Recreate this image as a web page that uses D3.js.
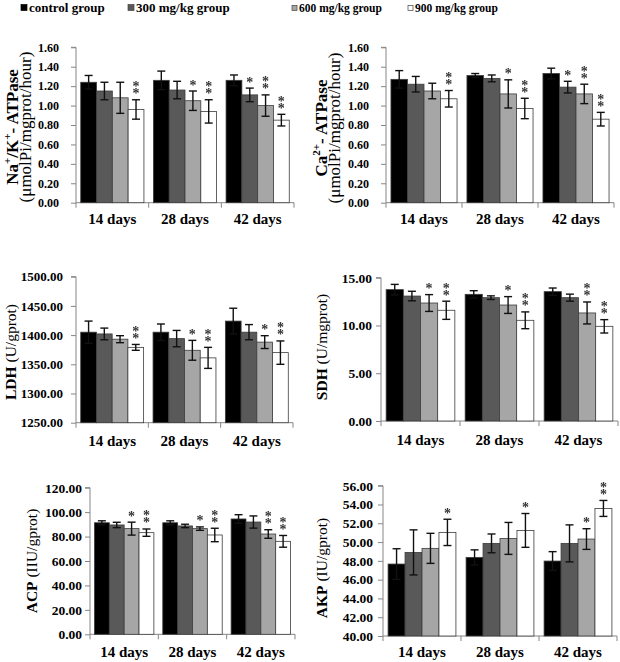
<!DOCTYPE html>
<html>
<head>
<meta charset="utf-8">
<script src="https://cdn.jsdelivr.net/npm/d3@7"></script>
<style>
  body { margin: 0; background: #fff; }
  svg { display: block; font-family: "Liberation Serif", "Times New Roman", serif; }
</style>
</head>
<body>
<svg id="chart" width="620" height="662">
  <defs>
    <filter id="gray"><feColorMatrix type="saturate" values="0"/></filter>
  </defs>
</svg>
<script>
// ===== DATA =====
const groups = ['control group', '300 mg/kg group', '600 mg/kg group', '900 mg/kg group'];
const periods = ['14 days', '28 days', '42 days'];
const groupColors = ['#000000', '#595959', '#a6a6a6', '#ffffff'];

// Na+/K+-ATPase (μmolPi/mgprot/hour), rows = periods, cols = groups
const nakMean = [[1.24, 1.15, 1.08, 0.96], [1.26, 1.16, 1.05, 0.94], [1.26, 1.11, 1.00, 0.85]];
const nakErr  = [[0.07, 0.09, 0.16, 0.10], [0.095, 0.09, 0.10, 0.12], [0.055, 0.07, 0.11, 0.06]];
const nakSig  = [[0, 0, 0, 2], [0, 0, 1, 2], [0, 1, 2, 2]];
const nakTicks = [0, 0.2, 0.4, 0.6, 0.8, 1.0, 1.2, 1.4, 1.6];

// Ca2+-ATPase
const caMean = [[1.27, 1.22, 1.15, 1.07], [1.31, 1.28, 1.12, 0.97], [1.33, 1.19, 1.12, 0.86]];
const caErr  = [[0.09, 0.08, 0.08, 0.085], [0.02, 0.035, 0.145, 0.105], [0.055, 0.06, 0.10, 0.07]];
const caSig  = [[0, 0, 0, 2], [0, 0, 1, 2], [0, 1, 2, 2]];
const caTicks = [0, 0.2, 0.4, 0.6, 0.8, 1.0, 1.2, 1.4, 1.6];

// LDH (U/gprot)
const ldhMean = [[1405, 1402, 1393, 1379], [1405, 1394, 1374, 1361], [1424, 1405, 1388, 1370]];
const ldhErr  = [[19, 10, 6, 5], [14, 14, 17, 18], [22, 13, 11, 20]];
const ldhSig  = [[0, 0, 0, 2], [0, 0, 1, 2], [0, 0, 1, 2]];
const ldhTicks = [1250, 1300, 1350, 1400, 1450, 1500];

// SDH (U/mgprot)
const sdhMean = [[13.75, 13.08, 12.35, 11.59], [13.26, 12.91, 12.14, 10.54], [13.54, 12.91, 11.31, 9.91]];
const sdhErr  = [[0.55, 0.5, 0.88, 0.95], [0.38, 0.19, 0.88, 0.88], [0.38, 0.37, 1.15, 0.7]];
const sdhSig  = [[0, 0, 1, 2], [0, 0, 1, 2], [0, 0, 2, 2]];
const sdhTicks = [0, 5, 10, 15];

// ACP (IIU/gprot)
const acpMean = [[91.3, 89.5, 86.5, 83.2], [91.3, 88.7, 86.5, 81.3], [94.4, 91.9, 82.1, 76.1]];
const acpErr  = [[1.6, 2.2, 5.3, 3.0], [1.6, 1.4, 1.4, 5.5], [3.5, 5.0, 3.5, 4.8]];
const acpSig  = [[0, 0, 1, 2], [0, 0, 1, 2], [0, 0, 2, 2]];
const acpTicks = [0, 20, 40, 60, 80, 100, 120];

// AKP (IU/gprot)
const akpMean = [[47.66, 48.9, 49.33, 51.03], [48.37, 49.86, 50.39, 51.24], [47.98, 49.86, 50.32, 53.58]];
const akpErr  = [[1.63, 2.4, 1.6, 1.4], [0.8, 1.0, 1.7, 1.8], [1.0, 1.97, 1.1, 0.85]];
const akpSig  = [[0, 0, 0, 1], [0, 0, 0, 1], [0, 0, 1, 2]];
const akpTicks = [40, 42, 44, 46, 48, 50, 52, 54, 56];

// ===== LAYOUT =====
const svg = d3.select('#chart');
const AXIS = '#868686';

const panels = [
  { mean: nakMean, err: nakErr, sig: nakSig, ticks: nakTicks,
    left: 76, right: 294, top: 47.3, bottom: 202.7, tickFont: 12, tickGap: 17, labelDy: 21,
    title: [{ x: 18, size: 17, parts: [['Na', 700], ['+', 700, 'sup'], ['/K', 700], ['+', 700, 'sup'], ['- ATPase', 700]] },
            { x: 31, size: 17, parts: [['(μmolPi/mgprot/hour)', 400]] }], titleY: 127 },
  { mean: caMean, err: caErr, sig: caSig, ticks: caTicks,
    left: 386, right: 614, top: 47.3, bottom: 202.7, tickFont: 12, tickGap: 17, labelDy: 21,
    title: [{ x: 327, size: 17, parts: [['Ca', 700], ['2+', 700, 'sup'], ['- ATPase', 700]] },
            { x: 340, size: 17, parts: [['(μmolPi/mgprot/hour)', 400]] }], titleY: 128 },
  { mean: ldhMean, err: ldhErr, sig: ldhSig, ticks: ldhTicks,
    left: 76, right: 293, top: 276.7, bottom: 422.7, tickFont: 13, tickGap: 13, labelDy: 23,
    title: [{ x: 16, size: 15.5, parts: [['LDH', 700], [' (U/gprot)', 400]] }], titleY: 352 },
  { mean: sdhMean, err: sdhErr, sig: sdhSig, ticks: sdhTicks,
    left: 381, right: 618, top: 277.7, bottom: 421, tickFont: 13.5, tickGap: 9, labelDy: 24,
    title: [{ x: 327, size: 15.5, parts: [['SDH', 700], [' (U/mgprot)', 400]] }], titleY: 347 },
  { mean: acpMean, err: acpErr, sig: acpSig, ticks: acpTicks,
    left: 90, right: 295, top: 487.7, bottom: 634.3, tickFont: 13.5, tickGap: 8, labelDy: 23,
    title: [{ x: 37, size: 15.5, parts: [['ACP', 700], [' (IIU/gprot)', 400]] }], titleY: 561 },
  { mean: akpMean, err: akpErr, sig: akpSig, ticks: akpTicks,
    left: 383, right: 617, top: 485.7, bottom: 636, tickFont: 13.5, tickGap: 10, labelDy: 21,
    title: [{ x: 327, size: 15.5, parts: [['AKP', 700], [' (IU/gprot)', 400]] }], titleY: 568 },
];

panels.forEach(drawPanel);
drawLegend();

function drawPanel(p) {
  const g = svg.append('g');
  const domain = [p.ticks[0], p.ticks[p.ticks.length - 1]];
  const y = d3.scaleLinear().domain(domain).range([p.bottom, p.top]);
  const x0 = d3.scaleBand().domain(periods).range([p.left, p.right]);
  const x1 = d3.scaleBand().domain(d3.range(groups.length))
    .range([0, x0.bandwidth()]).paddingOuter(0.3);

  // y axis
  const yAxis = d3.axisLeft(y).tickValues(p.ticks).tickSize(5).tickFormat(d => d.toFixed(2));
  const ya = g.append('g').attr('transform', `translate(${p.left},0)`).call(yAxis);
  ya.select('.domain').attr('stroke', AXIS).attr('d', `M-5,${p.top}H0V${p.bottom}`);
  ya.selectAll('.tick line').attr('stroke', AXIS);
  ya.selectAll('.tick text')
    .attr('x', -p.tickGap)
    .attr('font-family', '"Liberation Serif", serif')
    .attr('font-size', p.tickFont)
    .attr('font-weight', 700)
    .attr('fill', '#000');

  // x axis line + category separators
  g.append('line')
    .attr('x1', p.left).attr('x2', p.right)
    .attr('y1', p.bottom).attr('y2', p.bottom)
    .attr('stroke', AXIS);
  const edges = periods.map(d => x0(d)).concat([p.right]);
  g.selectAll('.sep').data(edges).join('line')
    .attr('x1', d => d).attr('x2', d => d)
    .attr('y1', p.bottom).attr('y2', p.bottom + 5)
    .attr('stroke', AXIS);

  g.selectAll('.xlab').data(periods).join('text')
    .attr('x', d => x0(d) + x0.bandwidth() / 2)
    .attr('y', p.bottom + p.labelDy)
    .attr('text-anchor', 'middle')
    .attr('font-size', 15)
    .attr('font-weight', 700)
    .text(d => d);

  // bars, error bars, significance stars
  periods.forEach((per, i) => {
    const pg = g.append('g').attr('transform', `translate(${x0(per)},0)`);
    const rows = p.mean[i].map((m, j) => ({ j, m, e: p.err[i][j], s: p.sig[i][j] }));

    pg.selectAll('rect').data(rows).join('rect')
      .attr('x', d => x1(d.j))
      .attr('y', d => y(d.m))
      .attr('width', x1.bandwidth())
      .attr('height', d => y(domain[0]) - y(d.m))
      .attr('fill', d => groupColors[d.j])
      .attr('stroke', '#3c3c3c')
      .attr('stroke-width', 0.8);

    const cap = 4;
    const eb = pg.selectAll('.err').data(rows).join('g')
      .attr('transform', d => `translate(${x1(d.j) + x1.bandwidth() / 2},0)`);
    eb.append('line')
      .attr('y1', d => y(d.m + d.e)).attr('y2', d => y(d.m - d.e))
      .attr('stroke', '#111').attr('stroke-width', 1.4);
    eb.append('line')
      .attr('x1', -cap).attr('x2', cap)
      .attr('y1', d => y(d.m + d.e)).attr('y2', d => y(d.m + d.e))
      .attr('stroke', '#111').attr('stroke-width', 1.4);
    eb.append('line')
      .attr('x1', -cap).attr('x2', cap)
      .attr('y1', d => y(d.m - d.e)).attr('y2', d => y(d.m - d.e))
      .attr('stroke', '#111').attr('stroke-width', 1.4);

    // one text per stack of stars, one tspan per star
    eb.filter(d => d.s > 0).append('text')
      .attr('text-anchor', 'middle')
      .attr('font-size', 14)
      .attr('font-weight', 700)
      .attr('fill', '#333')
      .attr('filter', 'url(#gray)')
      .each(function (d) {
        for (let k = d.s - 1; k >= 0; k--) {
          d3.select(this).append('tspan')
            .attr('x', 0)
            .attr('y', y(d.m + d.e) - 1.5 - k * 7)
            .text('*');
        }
      });
  });

  // y axis title (rotated)
  p.title.forEach(line => {
    const t = g.append('text')
      .attr('transform', `translate(${line.x},${p.titleY}) rotate(-90)`)
      .attr('text-anchor', 'middle')
      .attr('font-size', line.size);
    let shifted = false;
    line.parts.forEach(([txt, w, kind]) => {
      const ts = t.append('tspan').attr('font-weight', w).text(txt);
      if (kind === 'sup' && !shifted) {
        ts.attr('dy', -line.size * 0.4).attr('font-size', line.size * 0.65);
        shifted = true;
      } else if (kind !== 'sup' && shifted) {
        ts.attr('dy', line.size * 0.4);
        shifted = false;
      }
    });
  });
}

function drawLegend() {
  const items = [
    { sq: 21, size: 6, tx: 29, font: 13 },
    { sq: 128, size: 6, tx: 136, font: 13 },
    { sq: 292, size: 5, tx: 299, font: 11.5 },
    { sq: 408, size: 5, tx: 415, font: 11.5 },
  ];
  const lg = svg.append('g');
  items.forEach((it, i) => {
    lg.append('rect')
      .attr('x', it.sq).attr('y', 10.5 - it.size)
      .attr('width', it.size).attr('height', it.size)
      .attr('fill', groupColors[i])
      .attr('stroke', i === 0 ? '#000' : '#444')
      .attr('stroke-width', 0.7);
    lg.append('text')
      .attr('x', it.tx).attr('y', 12)
      .attr('font-size', it.font)
      .attr('font-weight', 700)
      .text(groups[i]);
  });
}
</script>
</body>
</html>
